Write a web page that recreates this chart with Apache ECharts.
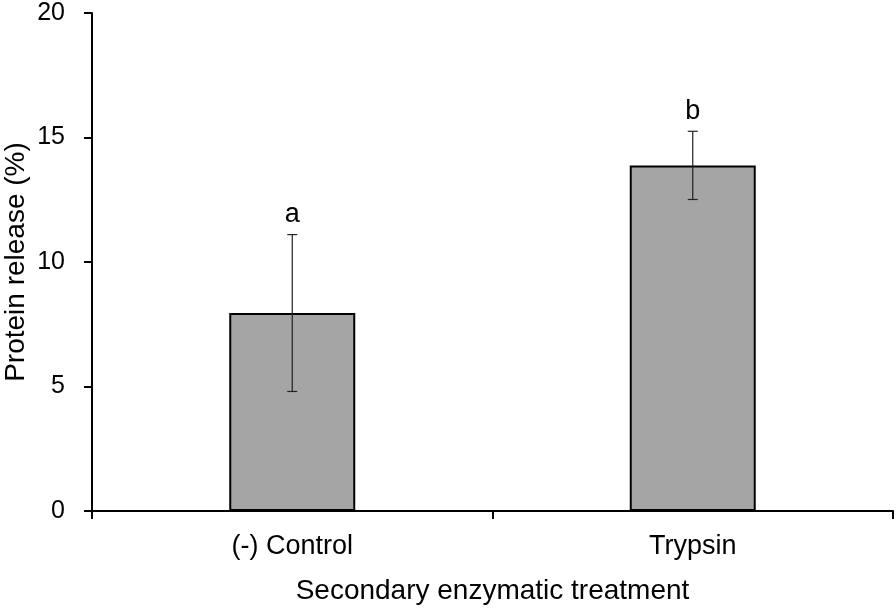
<!DOCTYPE html>
<html>
<head>
<meta charset="utf-8">
<script src="https://cdn.jsdelivr.net/npm/echarts@6/dist/echarts.min.js"></script>
<style>html,body{margin:0;padding:0;background:#fff}#c{width:896px;height:611px}</style>
</head>
<body>
<div id="c"></div>
<script>
var categories = ['(-) Control', 'Trypsin'];
var means = [7.95, 13.88];
var errors = [3.15, 1.37];
var letters = ['a', 'b'];
var yTicks = [0, 5, 10, 15, 20];

var chart = echarts.init(document.getElementById('c'));
var font = '"Liberation Sans", Arial, sans-serif';
var errData = means.map(function (m, i) { return [i, m - errors[i], m + errors[i], letters[i]]; });

chart.setOption({
  animation: false,
  grid: { left: 92, right: 3, top: 13, bottom: 100, containLabel: false, outerBoundsMode: 'none' },
  xAxis: {
    type: 'category',
    data: categories,
    name: 'Secondary enzymatic treatment',
    nameLocation: 'middle',
    nameGap: 66,
    nameMoveOverlap: false,
    nameTextStyle: { fontFamily: font, fontSize: 28, color: '#000' },
    axisLine: { lineStyle: { color: '#000', width: 2 } },
    axisTick: { show: true, length: 8, inside: false, alignWithLabel: false, lineStyle: { color: '#000', width: 2 } },
    axisLabel: { fontFamily: font, fontSize: 27, color: '#000', margin: 22 }
  },
  yAxis: {
    type: 'value',
    min: yTicks[0],
    max: yTicks[yTicks.length - 1],
    interval: 5,
    name: 'Protein release (%)',
    nameLocation: 'middle',
    nameGap: 62,
    nameMoveOverlap: false,
    nameTextStyle: { fontFamily: font, fontSize: 28, color: '#000' },
    splitLine: { show: false },
    axisLine: { show: true, lineStyle: { color: '#000', width: 2 } },
    axisTick: { show: true, length: 8, lineStyle: { color: '#000', width: 2 } },
    axisLabel: { fontFamily: font, fontSize: 25, color: '#000', margin: 27 }
  },
  series: [
    {
      type: 'bar',
      data: means,
      barWidth: 126,
      itemStyle: { color: '#a5a5a5', borderColor: '#000', borderWidth: 2 }
    },
    {
      type: 'custom',
      data: errData,
      z: 10,
      renderItem: function (params, api) {
        var x = api.value(0);
        var lo = api.coord([x, api.value(1)]);
        var hi = api.coord([x, api.value(2)]);
        var cap = 5;
        var st = { stroke: '#222', lineWidth: 1.2 };
        return {
          type: 'group',
          children: [
            { type: 'line', shape: { x1: hi[0], y1: hi[1], x2: lo[0], y2: lo[1] }, style: st },
            { type: 'line', shape: { x1: hi[0] - cap, y1: hi[1], x2: hi[0] + cap, y2: hi[1] }, style: st },
            { type: 'line', shape: { x1: lo[0] - cap, y1: lo[1], x2: lo[0] + cap, y2: lo[1] }, style: st },
            { type: 'text', style: { text: letters[params.dataIndex], x: hi[0], y: hi[1] - 20, align: 'center', verticalAlign: 'middle', fontFamily: font, fontSize: 27, fill: '#000' } }
          ]
        };
      }
    }
  ]
});
</script>
</body>
</html>
